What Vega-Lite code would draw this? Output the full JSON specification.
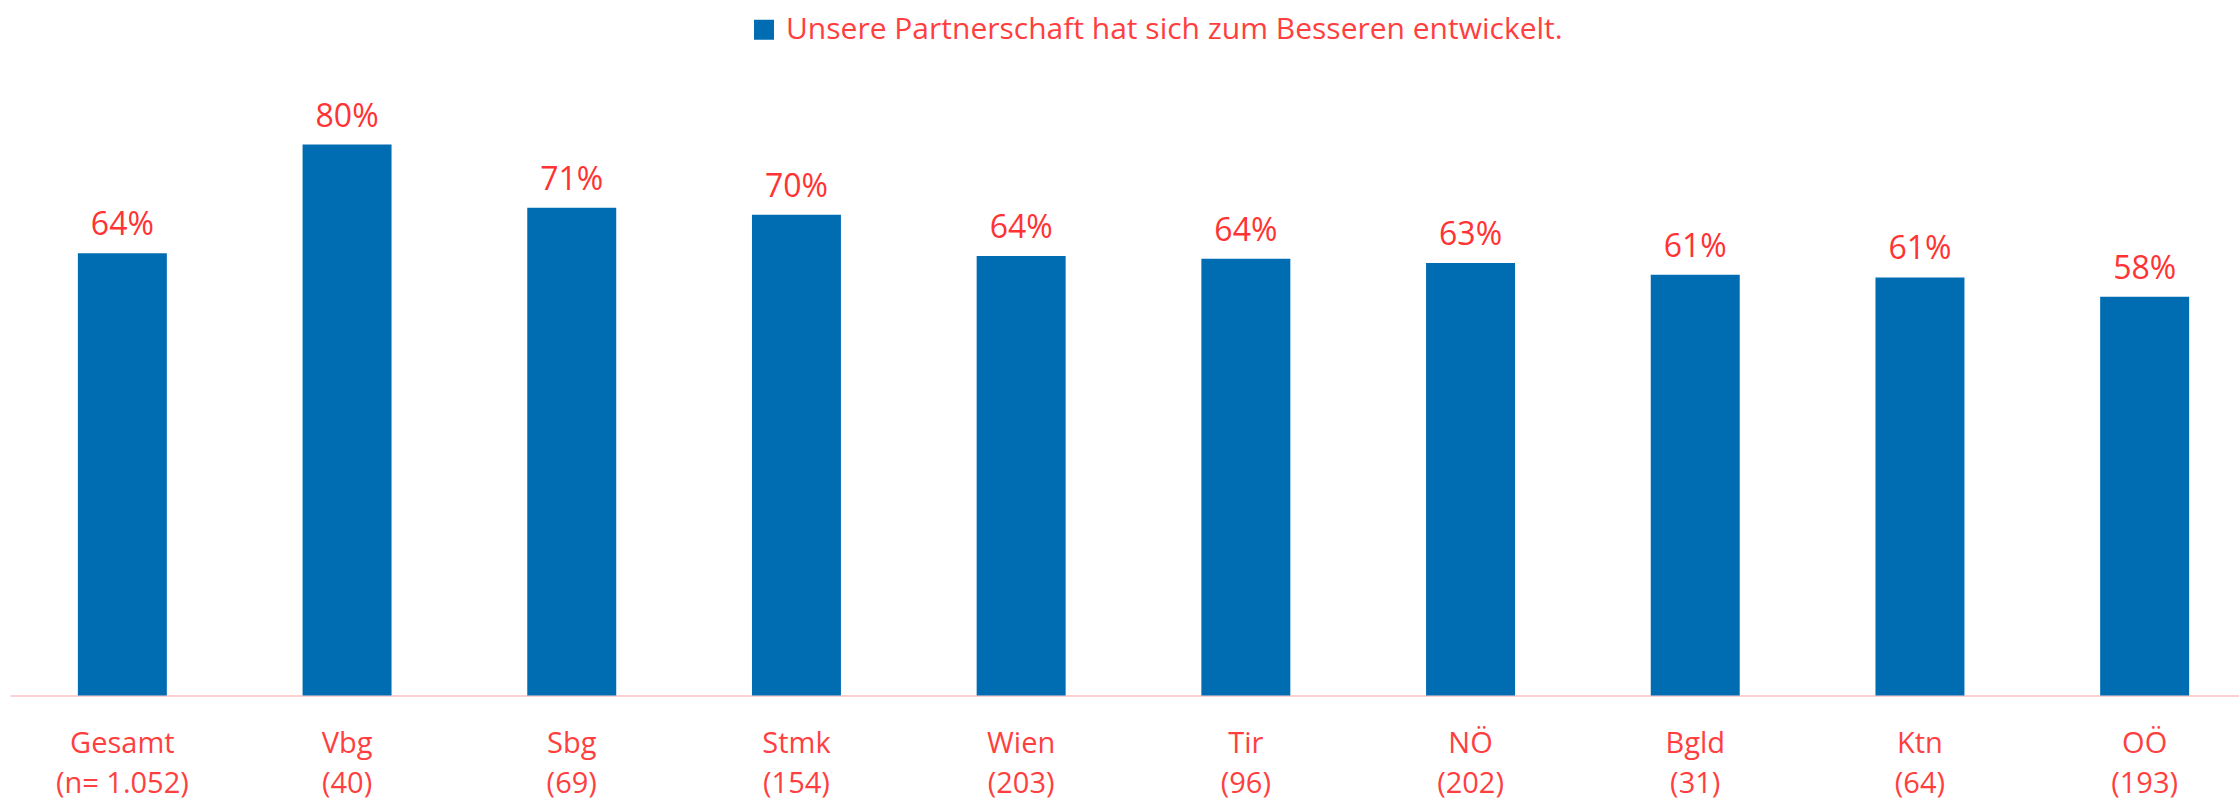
{
  "$schema": "https://vega.github.io/schema/vega-lite/v6.json",
  "width": 2229,
  "height": 688.75,
  "autosize": {"type": "none"},
  "padding": {"left": 10, "top": 6.75, "right": 0, "bottom": 106.5},
  "background": "white",
  "config": {"view": {"stroke": null}, "font": "Open Sans"},
  "data": {
    "values": [
      {"cat": "Gesamt|(n= 1.052)", "value": 64.2, "label": "64%", "series": "Unsere Partnerschaft hat sich zum Besseren entwickelt."},
      {"cat": "Vbg|(40)", "value": 80.0, "label": "80%", "series": "Unsere Partnerschaft hat sich zum Besseren entwickelt."},
      {"cat": "Sbg|(69)", "value": 70.8, "label": "71%", "series": "Unsere Partnerschaft hat sich zum Besseren entwickelt."},
      {"cat": "Stmk|(154)", "value": 69.8, "label": "70%", "series": "Unsere Partnerschaft hat sich zum Besseren entwickelt."},
      {"cat": "Wien|(203)", "value": 63.8, "label": "64%", "series": "Unsere Partnerschaft hat sich zum Besseren entwickelt."},
      {"cat": "Tir|(96)", "value": 63.4, "label": "64%", "series": "Unsere Partnerschaft hat sich zum Besseren entwickelt."},
      {"cat": "NÖ|(202)", "value": 62.8, "label": "63%", "series": "Unsere Partnerschaft hat sich zum Besseren entwickelt."},
      {"cat": "Bgld|(31)", "value": 61.1, "label": "61%", "series": "Unsere Partnerschaft hat sich zum Besseren entwickelt."},
      {"cat": "Ktn|(64)", "value": 60.7, "label": "61%", "series": "Unsere Partnerschaft hat sich zum Besseren entwickelt."},
      {"cat": "OÖ|(193)", "value": 57.9, "label": "58%", "series": "Unsere Partnerschaft hat sich zum Besseren entwickelt."}
    ]
  },
  "encoding": {
    "x": {
      "field": "cat",
      "type": "nominal",
      "sort": null,
      "scale": {"range": [0, 2247], "paddingInner": 0.604, "paddingOuter": 0.302},
      "axis": {
        "title": null,
        "labelAngle": 0,
        "ticks": false,
        "domainColor": "#FFD0D0",
        "domainWidth": 2,
        "labelColor": "#FF3F3F",
        "labelFontSize": 29,
        "labelPadding": 57,
        "labelBaseline": "alphabetic",
        "labelLineHeight": 40,
        "labelLimit": 400,
        "labelOverlap": false,
        "labelExpr": "split(datum.label, '|')"
      }
    }
  },
  "layer": [
    {
      "mark": {"type": "bar"},
      "encoding": {
        "y": {"field": "value", "type": "quantitative", "scale": {"domain": [0, 100]}, "axis": null},
        "color": {
          "field": "series",
          "type": "nominal",
          "scale": {"range": ["#006DB3"]},
          "legend": {
            "title": null,
            "orient": "none",
            "legendX": 739,
            "legendY": 8,
            "direction": "horizontal",
            "symbolType": "square",
            "symbolSize": 400,
            "symbolStrokeWidth": 0,
            "symbolOpacity": 1,
            "labelFontSize": 30,
            "labelColor": "#FF3F3F",
            "labelOffset": 7,
            "labelLimit": 1000
          }
        }
      }
    },
    {
      "mark": {"type": "text", "dy": -18, "baseline": "alphabetic", "fontSize": 32, "color": "#FF3333"},
      "encoding": {
        "y": {"field": "value", "type": "quantitative", "scale": {"domain": [0, 100]}},
        "text": {"field": "label"}
      }
    }
  ]
}
